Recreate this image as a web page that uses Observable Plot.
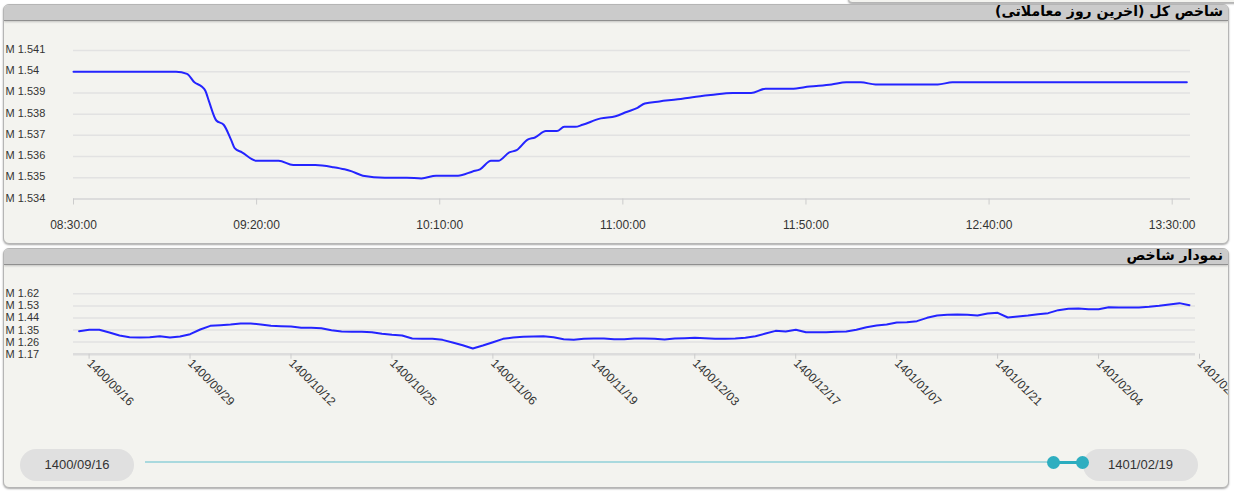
<!DOCTYPE html>
<html><head><meta charset="utf-8">
<script src="https://cdn.jsdelivr.net/npm/d3@7"></script>
<script src="https://cdn.jsdelivr.net/npm/@observablehq/plot@0.6"></script>
<style>
body{margin:0;background:#fff;width:1234px;height:491px;position:relative;overflow:hidden;font-family:"Liberation Sans",Arial,sans-serif;}
.panel{position:absolute;left:3px;width:1224px;height:238px;background:#f3f3ef;border:1px solid #b5b5b5;border-radius:6px;box-shadow:0 1px 2px rgba(0,0,0,.35);overflow:hidden;}
.hdr{position:absolute;left:0;right:0;top:0;height:15px;background:#cbcbcb;border-bottom:1px solid #8f8f8f;box-shadow:0 1px 2px rgba(0,0,0,.2);}
.hdr span{position:absolute;right:5px;top:-2px;font:bold 14px "DejaVu Sans",sans-serif;color:#000;direction:rtl;white-space:nowrap;}
.chart{position:absolute;left:-4px;top:16px;}
.chart svg{max-width:none !important;}
.pill{position:absolute;top:200px;height:32px;border-radius:16px;background:#e0e0e0;color:#333;font:13px "Liberation Sans",Arial,sans-serif;line-height:32px;text-align:center;}
.track{position:absolute;top:212px;height:2px;background:#a9d9de;}
.seg{position:absolute;top:212px;height:3px;background:#2badbf;}
.knob{position:absolute;width:13px;height:13px;border-radius:50%;background:#2eaec0;top:207px;}
.topstrip{position:absolute;left:848px;top:-5px;width:400px;height:6px;background:#f3f3ef;border:1px solid #b5b5b5;border-radius:6px;box-shadow:0 1px 2px rgba(0,0,0,.35);}
</style></head>
<body>
<div class="topstrip"></div>
<div class="panel" style="top:4px"><div class="hdr"><span>شاخص کل (آخرین روز معاملاتی)</span></div><div class="chart" id="c1"></div></div>
<div class="panel" style="top:248px"><div class="hdr"><span>نمودار شاخص</span></div><div class="chart" id="c2"></div>
<div class="pill" style="left:16px;width:114px">1400/09/16</div>
<div class="track" style="left:141px;width:909px"></div>
<div class="seg" style="left:1050px;width:29px"></div>
<div class="knob" style="left:1043px"></div>
<div class="pill" style="left:1079px;width:115px">1401/02/19</div>
<div class="knob" style="left:1072px"></div>
</div>
<script>
// ---- Top chart: index of last trading day (values in millions) ----
const topTimes = ["08:30","08:40","08:50","08:58","09:01","09:03","09:05","09:06","09:07","09:09","09:11","09:13","09:14","09:16","09:20","09:26","09:30","09:36","09:41","09:44","09:46","09:49","09:55","10:01","10:05","10:09","10:15","10:19","10:21","10:24","10:26","10:29","10:31","10:34","10:36","10:39","10:42","10:44","10:47","10:49","10:54","10:58","11:01","11:04","11:06","11:10","11:15","11:19","11:24","11:30","11:35","11:39","11:46","11:51","11:57","12:01","12:05","12:09","12:19","12:26","12:30","12:40","12:55","13:10","13:25","13:34"];
const topValues = [1.5400,1.5400,1.5400,1.5400,1.5399,1.5395,1.5393,1.5391,1.5386,1.5377,1.5375,1.5368,1.5364,1.5362,1.5358,1.5358,1.5356,1.5356,1.5355,1.5354,1.5353,1.5351,1.5350,1.5350,1.53497,1.5351,1.5351,1.5353,1.5354,1.5358,1.5358,1.5362,1.5363,1.5368,1.5369,1.5372,1.5372,1.5374,1.5374,1.5375,1.5378,1.5379,1.5381,1.5383,1.5385,1.5386,1.5387,1.5388,1.5389,1.5390,1.5390,1.5392,1.5392,1.5393,1.5394,1.5395,1.5395,1.5394,1.5394,1.5394,1.5395,1.5395,1.5395,1.5395,1.5395,1.5395];
const topXTicks = ["08:30:00","09:20:00","10:10:00","11:00:00","11:50:00","12:40:00","13:30:00"];
const topYTicks = [1.534,1.535,1.536,1.537,1.538,1.539,1.54,1.541];
const topXDomain = ["08:30:00","13:35:00"];

// ---- Bottom chart: daily index (values in millions) ----
const bottomValues = [1.3415,1.3515,1.3515,1.3316,1.3092,1.2968,1.2943,1.2968,1.3042,1.2943,1.3018,1.3192,1.3540,1.3813,1.3863,1.3913,1.3987,1.3987,1.3913,1.3813,1.3788,1.3763,1.3664,1.3664,1.3639,1.3490,1.3390,1.3366,1.3366,1.3341,1.3216,1.3142,1.3092,1.2868,1.2844,1.2844,1.2769,1.2570,1.2371,1.2123,1.2346,1.2595,1.2844,1.2943,1.2993,1.3018,1.3042,1.2968,1.2819,1.2769,1.2844,1.2868,1.2868,1.2819,1.2819,1.2868,1.2868,1.2844,1.2794,1.2868,1.2893,1.2918,1.2893,1.2844,1.2844,1.2868,1.2918,1.3042,1.3241,1.3440,1.3390,1.3515,1.3341,1.3341,1.3341,1.3366,1.3390,1.3515,1.3714,1.3838,1.3913,1.4062,1.4087,1.4161,1.4410,1.4584,1.4633,1.4658,1.4633,1.4584,1.4733,1.4783,1.4435,1.4509,1.4584,1.4683,1.4758,1.4982,1.5081,1.5106,1.5056,1.5056,1.5205,1.5180,1.5180,1.5180,1.5230,1.5305,1.5404,1.5504,1.5354];
const bottomTickLabels = ["1400/09/16","1400/09/29","1400/10/12","1400/10/25","1400/11/06","1400/11/19","1400/12/03","1400/12/17","1401/01/07","1401/01/21","1401/02/04","1401/02/19"];
const bottomYTicks = [1.17,1.26,1.35,1.44,1.53,1.62];
const bottomTickStep = 10;

const parseT = d3.utcParse("%H:%M");
const parseTs = d3.utcParse("%H:%M:%S");
const topData = topTimes.map((t,i)=>({t:parseT(t), v:topValues[i]}));
const bottomData = bottomValues.map((v,i)=>({i, v}));
const fmtM = d => "M " + (+d.toFixed(3));
const lineColor = "#2424ff";

const p1 = Plot.plot({
  width: 1234, height: 223,
  marginLeft: 73, marginRight: 44, marginTop: 29, marginBottom: 45.5,
  style: {fontFamily: '"Liberation Sans", Arial, sans-serif', fontSize: "12px", background: "transparent", overflow: "visible", maxWidth: "none"},
  x: {type: "utc", domain: topXDomain.map(parseTs), label: null},
  y: {domain: [topYTicks[0], topYTicks[topYTicks.length-1]], label: null},
  marks: [
    Plot.gridY(topYTicks, {stroke: "#e2e2e2", strokeOpacity: 1, strokeWidth: 1.5}),
    Plot.ruleY([topYTicks[0]], {stroke: "#dcdcdc", strokeWidth: 2}),
    Plot.axisY(topYTicks, {label: null, tickSize: 0, tickPadding: 0, textAnchor: "start", dx: -68, dy: -1, tickFormat: fmtM, fontSize: 11, fill: "#333"}),
    Plot.axisX(topXTicks.map(parseTs), {label: null, tickSize: 6, tickPadding: 15, stroke: "#ccc", fill: "#333", fontSize: 12, tickFormat: d3.utcFormat("%H:%M:%S")}),
    Plot.line(topData, {x: "t", y: "v", stroke: lineColor, strokeWidth: 2, curve: "monotone-x"})
  ]
});
document.getElementById("c1").append(p1);

const tickIdx = bottomTickLabels.map((_,k)=>k*bottomTickStep);
const p2 = Plot.plot({
  width: 1234, height: 170,
  marginLeft: 73, marginRight: 39, marginTop: 28.3, marginBottom: 81.3,
  insetLeft: 5.6, insetRight: 6,
  style: {fontFamily: '"Liberation Sans", Arial, sans-serif', fontSize: "12px", background: "transparent", maxWidth: "none"},
  x: {domain: [0, bottomValues.length-1], label: null},
  y: {domain: [bottomYTicks[0], bottomYTicks[bottomYTicks.length-1]], label: null},
  marks: [
    Plot.gridY(bottomYTicks, {stroke: "#e2e2e2", strokeOpacity: 1, strokeWidth: 1.5}),
    Plot.ruleY([bottomYTicks[0]], {stroke: "#dcdcdc", strokeWidth: 2.5}),
    Plot.axisY(bottomYTicks, {label: null, tickSize: 0, tickPadding: 0, textAnchor: "start", dx: -68, tickFormat: fmtM, fontSize: 11, fill: "#333"}),
    Plot.axisX(tickIdx, {label: null, tickSize: 5, tickPadding: 2, dx: 10, tickRotate: 45, stroke: "#ccc", fill: "#333", fontSize: 12, tickFormat: i => bottomTickLabels[i/bottomTickStep]}),
    Plot.line(bottomData, {x: "i", y: "v", stroke: lineColor, strokeWidth: 2})
  ]
});
document.getElementById("c2").append(p2);
</script>
</body></html>
